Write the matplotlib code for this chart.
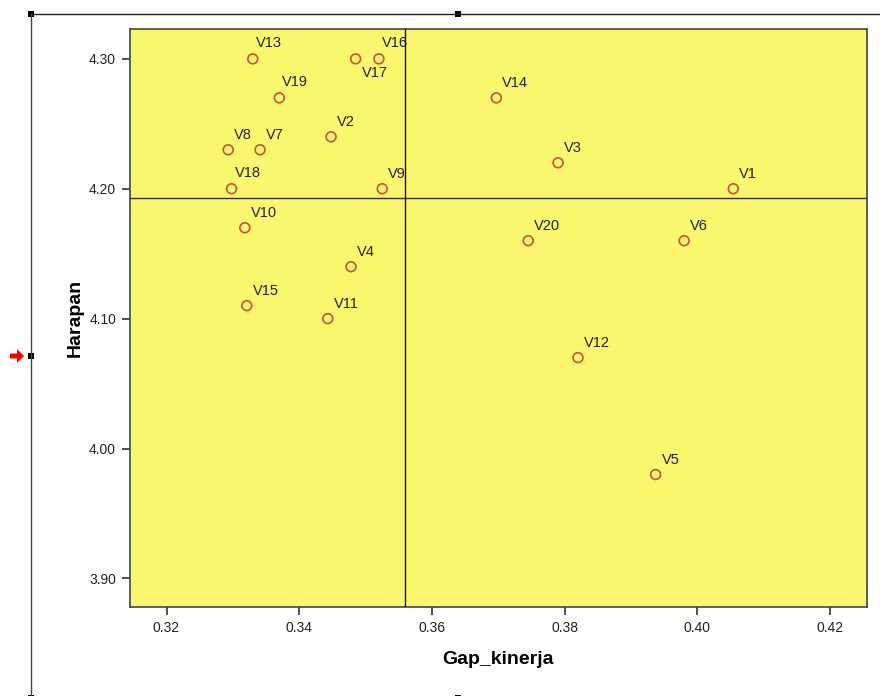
import matplotlib
matplotlib.use("Agg")
import matplotlib.pyplot as plt
from matplotlib.patches import Rectangle, FancyArrow
from matplotlib.lines import Line2D

# ---- data ----
labels = ["V1", "V2", "V3", "V4", "V5", "V6", "V7", "V8", "V9", "V10",
          "V11", "V12", "V13", "V14", "V15", "V16", "V17", "V18", "V19", "V20"]
gap_kinerja = [0.4054, 0.3448, 0.3790, 0.3478, 0.3937, 0.3980, 0.3341, 0.3293, 0.3525, 0.3318,
               0.3443, 0.3820, 0.3330, 0.3697, 0.3321, 0.3520, 0.3485, 0.3298, 0.3370, 0.3745]
harapan = [4.20, 4.24, 4.22, 4.14, 3.98, 4.16, 4.23, 4.23, 4.20, 4.17,
           4.10, 4.07, 4.30, 4.27, 4.11, 4.30, 4.30, 4.20, 4.27, 4.16]
mean_gap = 0.3559
mean_harapan = 4.193
x_ticks = [0.32, 0.34, 0.36, 0.38, 0.40, 0.42]
y_ticks = [3.90, 4.00, 4.10, 4.20, 4.30]

plt.rcParams['font.family'] = ['Liberation Sans', 'DejaVu Sans']

W, H = 880, 696
fig = plt.figure(figsize=(W / 100, H / 100), dpi=100)
fig.patch.set_facecolor('white')

# axes placement (pixels)
L, R, T, B = 130, 867, 29, 607
ax = fig.add_axes([L / W, 1 - B / H, (R - L) / W, (B - T) / H])
ax.set_facecolor('#FAF76E')
ax.set_xlim(0.3145, 0.42555)
ax.set_ylim(3.878, 4.323)

ax.scatter(gap_kinerja, harapan, s=50, facecolors='none', edgecolors='#C8503C',
           linewidths=1.2, zorder=3)

# label offsets in pixels (default up-right)
special = {"V17": (6, 14), "V16": (3, -16), "V13": (3, -16), "V19": (3, -16), "V18": (3, -16)}
for lab, x, y in zip(labels, gap_kinerja, harapan):
    dx, dy = special.get(lab, (6, -15))
    ax.annotate(lab, (x, y), xytext=(dx, -dy), textcoords='offset pixels',
                ha='left', va='center', fontsize=10.5, color='#222222', zorder=4)

ax.axvline(mean_gap, color='#111111', lw=1.0, zorder=5)
ax.axhline(mean_harapan, color='#333333', lw=1.0, zorder=5)

ax.set_xticks(x_ticks)
ax.set_xticklabels([f"{v:.2f}" for v in x_ticks])
ax.set_yticks(y_ticks)
ax.set_yticklabels([f"{v:.2f}" for v in y_ticks])
ax.tick_params(axis='both', direction='out', length=6, width=1.2, color='#333333',
               labelsize=10, labelcolor='#222222', pad=4)
ax.tick_params(axis='x', top=False)
ax.tick_params(axis='y', right=False)
for sp in ax.spines.values():
    sp.set_color('#444444')
    sp.set_linewidth(1.2)

ax.set_xlabel('Gap_kinerja', fontsize=14, fontweight='bold', va='center')
ax.set_ylabel('Harapan', fontsize=14, fontweight='bold', va='center')
ax.xaxis.set_label_coords(((498) - L) / (R - L), (B - 660) / (B - T))
ax.yaxis.set_label_coords((75 - L) / (R - L), 0.5)

# ---- editor frame decorations ----
def fx(px):
    return px / W

def fy(py):
    return 1 - py / H

fig.add_artist(Line2D([fx(31), 1.0], [fy(14), fy(14)], color='#222222', lw=1.0))
fig.add_artist(Line2D([fx(31), fx(31)], [fy(14), 0.0], color='#444444', lw=1.0))
for (px, py) in [(31, 14), (458, 14), (31, 356), (31, 698), (458, 698)]:
    s = 6
    fig.add_artist(Rectangle((fx(px - s / 2), fy(py + s / 2)), s / W, s / H,
                             facecolor='black', edgecolor='none'))
fig.add_artist(FancyArrow(fx(10), fy(356), fx(14), 0, width=5 / H, head_width=14 / H,
                          head_length=7 / W, length_includes_head=True,
                          facecolor='#FF0000', edgecolor='none'))

fig.savefig('out.png', dpi=100)
